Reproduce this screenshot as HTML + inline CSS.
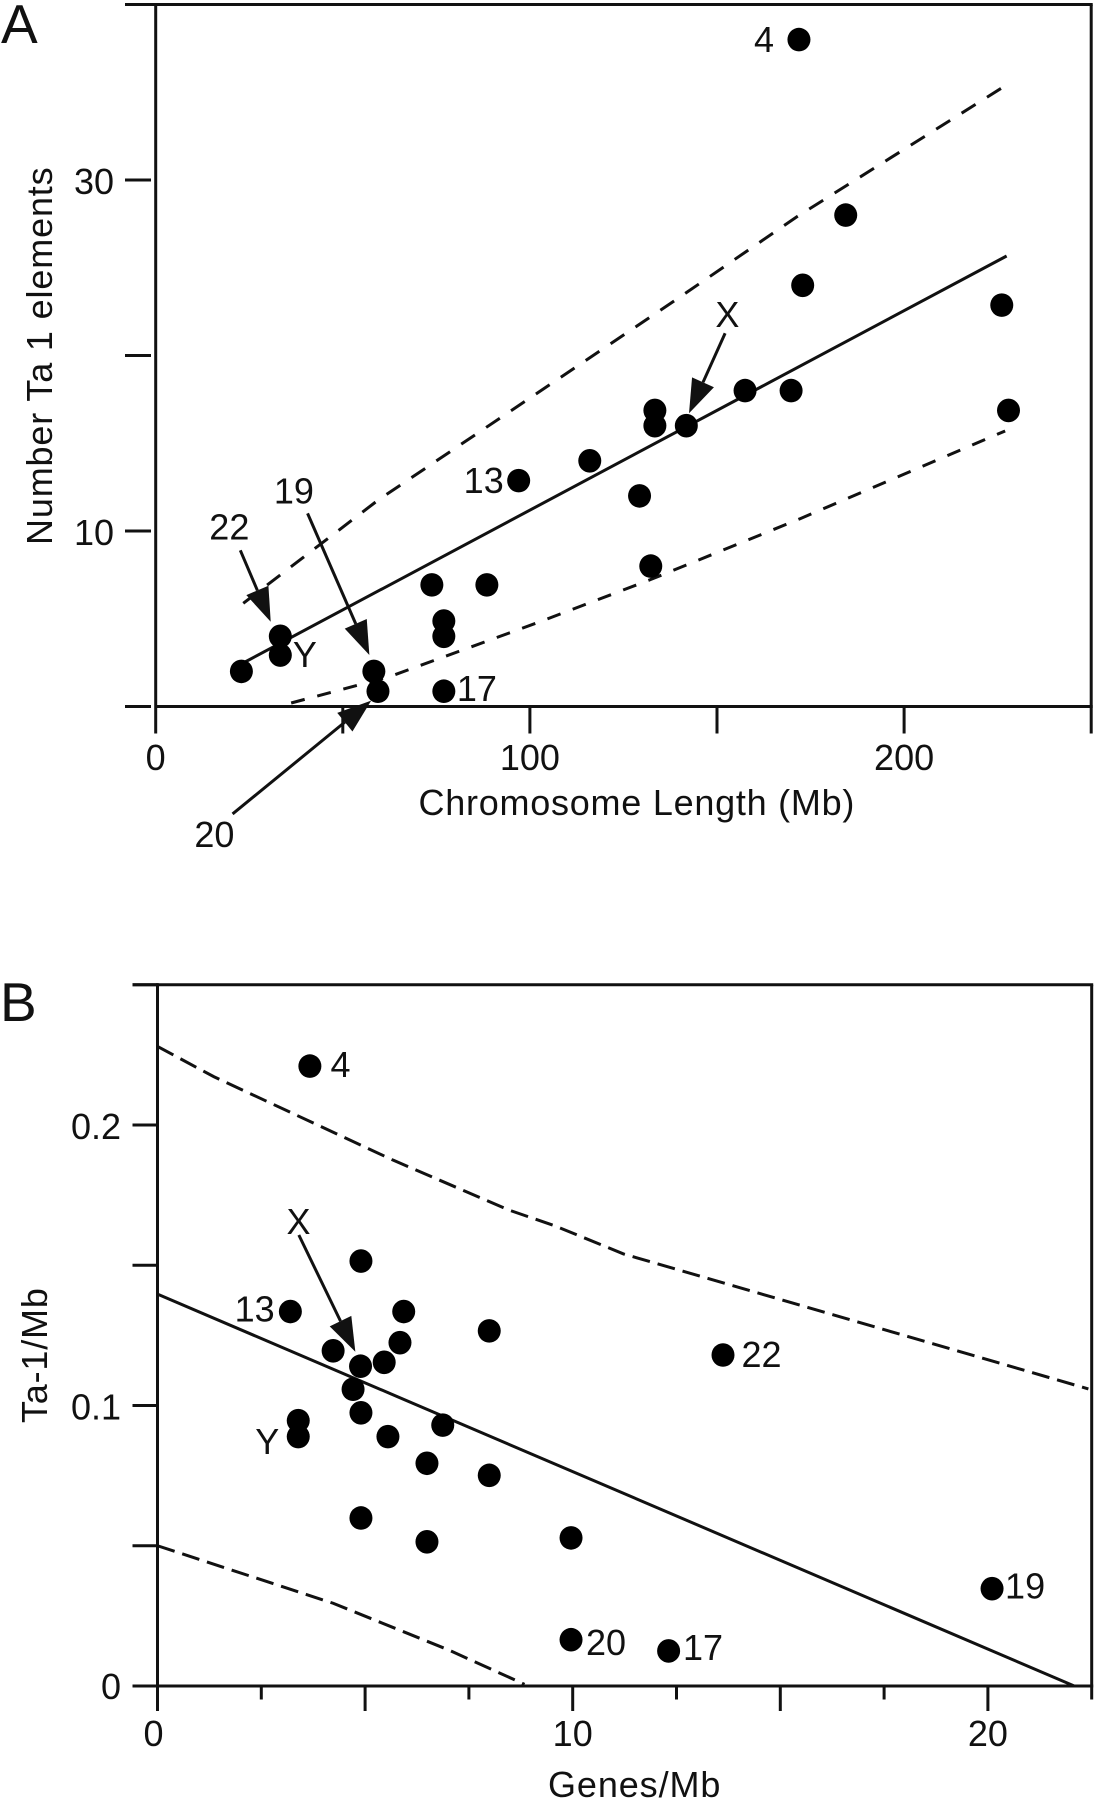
<!DOCTYPE html>
<html>
<head>
<meta charset="utf-8">
<title>Ta-1 elements per chromosome</title>
<style>
html,body{margin:0;padding:0;background:#fff;}
svg{display:block;}
text{font-family:"Liberation Sans",Arial,sans-serif;font-size:36px;fill:#111;}
</style>
</head>
<body>
<svg id="figure" xmlns="http://www.w3.org/2000/svg" width="1100" height="1800" viewBox="0 0 1100 1800">
<rect x="0" y="0" width="1100" height="1800" fill="#fff"/>
<text x="1" y="43" style="font-size:55px">A</text>
<text x="0" y="1021" style="font-size:55px">B</text>
<text x="418.5" y="815" style="letter-spacing:.75px">Chromosome Length (Mb)</text>
<text transform="translate(52 545) rotate(-90)" style="letter-spacing:.85px">Number Ta 1 elements</text>
<text x="548" y="1797" style="letter-spacing:.9px">Genes/Mb</text>
<text transform="translate(47 1423) rotate(-90)" style="letter-spacing:.8px">Ta-1/Mb</text>
</svg>
<script>
// Panel A data
const lengthMb = [22.9,33.3,33.3,58.3,59.4,73.8,77,77,77,88.5,97,116,129.3,132.3,133.4,133.4,141.8,157.5,169.8,171.9,172.9,184.4,226.1,227.9];
const countTa1 = [2,4,2.93,2,0.87,6.93,4.87,4,0.87,6.93,12.87,14,12,8,16.87,16,16,18,18,38,24,28,22.87,16.87];
const fitAX = [24,227.4];
const fitAY = [2.55,25.67];
const upperAX = [23.4,59.5,139.2,171.3,228];
const upperAY = [5.88,11.77,23.2,27.9,35.5];
const lowerAX = [36.2,62.5,102.7,132.1,172.2,227];
const lowerAY = [0.2,1.7,4.83,7.22,10.7,15.7];
const xTicksA = [0,50,100,150,200,250];
const xTickLabelsA = ['0','','100','','200',''];
const yTicksA = [0,10,20,30,40];
const yTickLabelsA = ['','10','','30',''];

// Panel B data
const genesPerMb = [3.67,3.2,4.9,5.93,5.84,4.23,4.89,5.46,7.99,4.71,4.9,6.87,3.39,3.39,5.55,6.49,7.99,4.9,6.49,9.96,9.96,12.31,13.62,20.1];
const ta1PerMb = [.221,.1335,.1515,.1335,.1224,.1195,.114,.1154,.1266,.1058,.0974,.093,.0946,.0889,.0889,.0794,.0751,.0599,.0514,.0528,.0165,.0125,.118,.0347];
const fitBX = [0,22.08];
const fitBY = [.1397,0];
const upperBX = [0,1.36,5.67,8.46,9.58,11.23,22.42];
const upperBY = [.228,.2172,.1875,.1697,.164,.154,.1059];
const lowerBX = [0,4.23,7.02,8.84];
const lowerBY = [.05,.0295,.0128,.0006];
const xTicksB = [0,2.5,5,7.5,10,12.5,15,17.5,20,22.5];
const xTickLabelsB = ['0','','','','10','','','','20',''];
const yTicksB = [0,.05,.1,.15,.2,.25];
const yTickLabelsB = ['0','','0.1','','0.2',''];

const NS = 'http://www.w3.org/2000/svg';
const svg = document.getElementById('figure');
const INK = '#111';

function make(tag, name, attrs) {
  const el = document.createElementNS(NS, tag);
  
  
  for (const k in attrs) el.setAttribute(k, attrs[k]);
  svg.appendChild(el);
  return el;
}
function line(name, x1, y1, x2, y2) {
  return make('line', name, {x1, y1, x2, y2, stroke: INK, 'stroke-width': 3});
}
function polyline(name, xs, ys, sx, sy, dash) {
  const pts = xs.map((v, i) => sx(v) + ',' + sy(ys[i])).join(' ');
  const attrs = {points: pts, fill: 'none', stroke: INK, 'stroke-width': 3};
  if (dash) attrs['stroke-dasharray'] = dash;
  return make('polyline', name, attrs);
}
function textAt(name, str, x, y, anchor) {
  const t = make('text', name, {x, y});
  if (anchor) t.setAttribute('text-anchor', anchor);
  t.textContent = str;
  return t;
}
function arrow(prefix, px, py, tailDx, tailDy, tipDx, tipDy) {
  const tx = px + tipDx, ty = py + tipDy;
  const fx = px + tailDx, fy = py + tailDy;
  const d = Math.hypot(tx - fx, ty - fy);
  const ux = (tx - fx) / d, uy = (ty - fy) / d;
  const bx = tx - ux * 34, by = ty - uy * 34;
  line(prefix + '-shaft', fx, fy, bx, by);
  make('polygon', prefix + '-head', {
    points: tx + ',' + ty + ' ' + (bx - uy * 12) + ',' + (by + ux * 12) + ' ' + (bx + uy * 12) + ',' + (by - ux * 12),
    fill: INK
  });
}

function drawFrame(p, sx, sy, cfg) {
  const L = sx(0), R = sx(cfg.xMax), B = sy(0), T = sy(cfg.yMax);
  line(p + '-left-axis', L, T - 1.5, L, B);
  line(p + '-top-border', cfg.tickL, T, R + 1.5, T);
  line(p + '-right-border', R, T, R, B);
  line(p + '-bottom-axis', L, B, R + 1.5, B);
  cfg.yTicks.forEach((v, i) => {
    line(p + '-y-tick', cfg.tickL, sy(v), cfg.tickR, sy(v));
    if (cfg.yLabels[i]) textAt(p + '-y-tick-label', cfg.yLabels[i], cfg.yLabelX, sy(v) + cfg.yLabelDy(v), 'end');
  });
  cfg.xTicks.forEach((v, i) => {
    line(p + '-x-tick', sx(v), B, sx(v), B + cfg.xTickLen(i));
    if (cfg.xLabels[i]) textAt(p + '-x-tick-label', cfg.xLabels[i], sx(v) + cfg.xLabelDx(v), cfg.xLabelY, 'middle');
  });
}

// Panel A scales
const xA = v => 155.7 + 3.742 * v;
const yA = v => 706.5 - 17.55 * v;
drawFrame('panel-a', xA, yA, {
  xMax: 250, yMax: 40, tickL: 125, tickR: 151,
  yTicks: yTicksA, yLabels: yTickLabelsA, yLabelX: 114, yLabelDy: () => 14,
  xTicks: xTicksA, xLabels: xTickLabelsA, xTickLen: () => 27, xLabelDx: () => 0, xLabelY: 770
});
polyline('panel-a-upper-confidence-line', upperAX, upperAY, xA, yA, '16.5 13.5');
polyline('panel-a-lower-confidence-line', lowerAX, lowerAY, xA, yA, '14 13');
polyline('panel-a-regression-line', fitAX, fitAY, xA, yA);
lengthMb.forEach((v, i) => {
  make('ellipse', 'panel-a-point', {cx: xA(v), cy: yA(countTa1[i]), rx: 11.5, ry: 11.8, fill: '#000'});
});
function labelA(str, i, dx, dy) { textAt('panel-a-label-' + str, str, xA(lengthMb[i]) + dx, yA(countTa1[i]) + dy); }
labelA('4', 19, -45, 12.4);
labelA('X', 16, 29, -98.7);
labelA('13', 10, -55, 12.4);
labelA('19', 3, -100, -168);
labelA('22', 1, -71, -97);
labelA('Y', 2, 12.6, 11.8);
labelA('17', 8, 13, 9.7);
labelA('20', 4, -183.6, 155.7);
arrow('panel-a-arrow-22', xA(lengthMb[1]), yA(countTa1[1]), -40, -86, -9.6, -14.6);
arrow('panel-a-arrow-19', xA(lengthMb[3]), yA(countTa1[3]), -66.3, -158, -4.5, -16.4);
arrow('panel-a-arrow-20', xA(lengthMb[4]), yA(countTa1[4]), -145.4, 122.7, -6.8, 9.4);
arrow('panel-a-arrow-x', xA(lengthMb[16]), yA(countTa1[16]), 38.8, -92.4, 2.7, -12.4);

// Panel B scales
const xB = v => 157.5 + 41.52 * v;
const yB = v => 1686 - 2805 * v;
drawFrame('panel-b', xB, yB, {
  xMax: 22.5, yMax: .25, tickL: 132.5, tickR: 158,
  yTicks: yTicksB, yLabels: yTickLabelsB, yLabelX: 121, yLabelDy: v => v === 0 ? 13 : 14,
  xTicks: xTicksB, xLabels: xTickLabelsB, xTickLen: i => i % 2 ? 13.5 : 25, xLabelDx: v => v === 0 ? -4 : 0, xLabelY: 1746
});
polyline('panel-b-upper-confidence-line', upperBX, upperBY, xB, yB, '18 8');
polyline('panel-b-lower-confidence-line', lowerBX, lowerBY, xB, yB, '18 8');
polyline('panel-b-regression-line', fitBX, fitBY, xB, yB);
genesPerMb.forEach((v, i) => {
  make('ellipse', 'panel-b-point', {cx: xB(v), cy: yB(ta1PerMb[i]), rx: 11.5, ry: 11.8, fill: '#000'});
});
function labelB(str, i, dx, dy) { textAt('panel-b-label-' + str, str, xB(genesPerMb[i]) + dx, yB(ta1PerMb[i]) + dy); }
labelB('4', 0, 20.6, 10.7);
labelB('13', 1, -55.7, 10.2);
labelB('X', 6, -74, -132);
labelB('Y', 13, -43, 17.4);
labelB('22', 22, 18.5, 12);
labelB('19', 23, 13, 10);
labelB('20', 20, 15, 15.3);
labelB('17', 21, 14.4, 9);
arrow('panel-b-arrow-x', xB(genesPerMb[6]), yB(ta1PerMb[6]), -61.7, -131.2, -5.2, -14.5);
</script>
</body>
</html>
